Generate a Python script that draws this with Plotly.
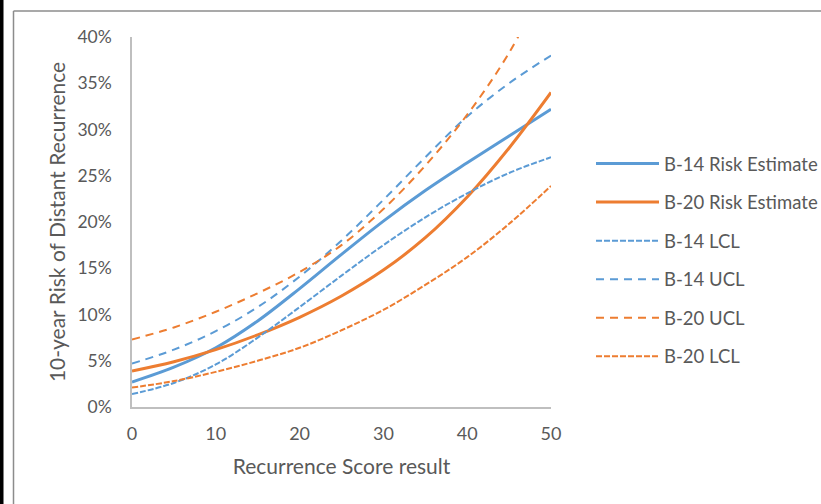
import plotly.graph_objects as go

# Recurrence score (x) and 10-year risk values (fractions)
score = [0, 5, 10, 15, 20, 25, 30, 35, 40, 45, 50]

b14_est = [0.027, 0.043, 0.064, 0.093, 0.128, 0.165, 0.201, 0.234, 0.264, 0.293, 0.322]
b20_est = [0.039, 0.049, 0.062, 0.078, 0.097, 0.120, 0.148, 0.183, 0.227, 0.280, 0.340]
b14_lcl = [0.014, 0.026, 0.046, 0.075, 0.108, 0.142, 0.175, 0.205, 0.231, 0.253, 0.270]
b14_ucl = [0.047, 0.062, 0.082, 0.108, 0.141, 0.180, 0.224, 0.270, 0.314, 0.350, 0.380]
b20_ucl = [0.073, 0.086, 0.103, 0.123, 0.146, 0.175, 0.214, 0.261, 0.316, 0.383, 0.470]
b20_lcl = [0.021, 0.028, 0.038, 0.050, 0.064, 0.083, 0.105, 0.132, 0.162, 0.198, 0.239]

series_names = ["B-14 Risk Estimate", "B-20 Risk Estimate", "B-14 LCL",
                "B-14 UCL", "B-20 UCL", "B-20 LCL"]
series_values = [b14_est, b20_est, b14_lcl, b14_ucl, b20_ucl, b20_lcl]

BLUE = "#5B9BD5"
ORANGE = "#ED7D31"
styles = [
    dict(color=BLUE, width=3, dash="solid"),
    dict(color=ORANGE, width=3, dash="solid"),
    dict(color=BLUE, width=2, dash="6px,2px"),
    dict(color=BLUE, width=2, dash="8px,6px"),
    dict(color=ORANGE, width=2, dash="8px,6px"),
    dict(color=ORANGE, width=2, dash="6px,2px"),
]

x_ticks = [0, 10, 20, 30, 40, 50]
y_ticks = [0, 0.05, 0.10, 0.15, 0.20, 0.25, 0.30, 0.35, 0.40]

FONT = "Lato"
TXT = "#595959"

fig = go.Figure()
for i, (name, vals, st) in enumerate(zip(series_names, series_values, styles)):
    fig.add_trace(go.Scatter(
        x=score, y=vals, name=name, mode="lines",
        line=dict(shape="spline", smoothing=1.0, **st),
        legendgroup=f"g{i}",
    ))

# plot area in pixels: x 132..551, y 37..407
L, R, T, B = 132, 551, 37, 407
W, H = 821, 504

def px_x(p):
    return (p - L) / (R - L)

def px_y(p):
    return (B - p) / (B - T)

shapes = [
    # outer chart frame (top and left edges)
    dict(type="line", xref="paper", yref="paper",
         x0=px_x(13.5), x1=px_x(W + 2), y0=px_y(11), y1=px_y(11),
         line=dict(color="#8C8C8C", width=1.5)),
    dict(type="line", xref="paper", yref="paper",
         x0=px_x(13.5), x1=px_x(13.5), y0=px_y(11), y1=px_y(H + 2),
         line=dict(color="#8C8C8C", width=1.5)),
    # dark strip on the far left
    dict(type="rect", xref="paper", yref="paper",
         x0=px_x(-2), x1=px_x(3.5), y0=px_y(-2), y1=px_y(H + 2),
         fillcolor="#000000", line=dict(width=0)),
]

fig.update_layout(
    width=W, height=H,
    margin=dict(l=L, r=W - R, t=T, b=H - B, pad=0, autoexpand=False),
    paper_bgcolor="white", plot_bgcolor="white",
    font=dict(family=FONT, color=TXT, size=17),
    shapes=shapes,
    showlegend=True,
    legend=dict(
        x=px_x(591), xanchor="left",
        y=px_y(145), yanchor="top",
        font=dict(family=FONT, size=18.5, color=TXT),
        itemwidth=63,
        tracegroupgap=11.5,
        traceorder="grouped",
        bgcolor="rgba(0,0,0,0)",
    ),
    xaxis=dict(
        range=[0, 50], tickvals=x_ticks, ticktext=[str(v) for v in x_ticks],
        showgrid=False, zeroline=False, showline=True,
        linecolor="#BFBFBF", linewidth=1.5, ticks="",
        ticklabelstandoff=10,
        tickfont=dict(family=FONT, size=18, color=TXT),
        title=dict(text="Recurrence Score result", standoff=16,
                   font=dict(family=FONT, size=21, color=TXT)),
    ),
    yaxis=dict(
        range=[0, 0.40], tickvals=y_ticks, tickformat=".0%",
        showgrid=False, zeroline=False, showline=True,
        linecolor="#BFBFBF", linewidth=1.5, ticks="",
        ticklabelstandoff=15,
        tickfont=dict(family=FONT, size=17.5, color=TXT),
        title=dict(text="10-year Risk of Distant Recurrence", standoff=6,
                   font=dict(family=FONT, size=21, color=TXT)),
    ),
)

fig.write_html("out.html", config={"displayModeBar": False},
               post_script="document.body.style.margin='0';")
